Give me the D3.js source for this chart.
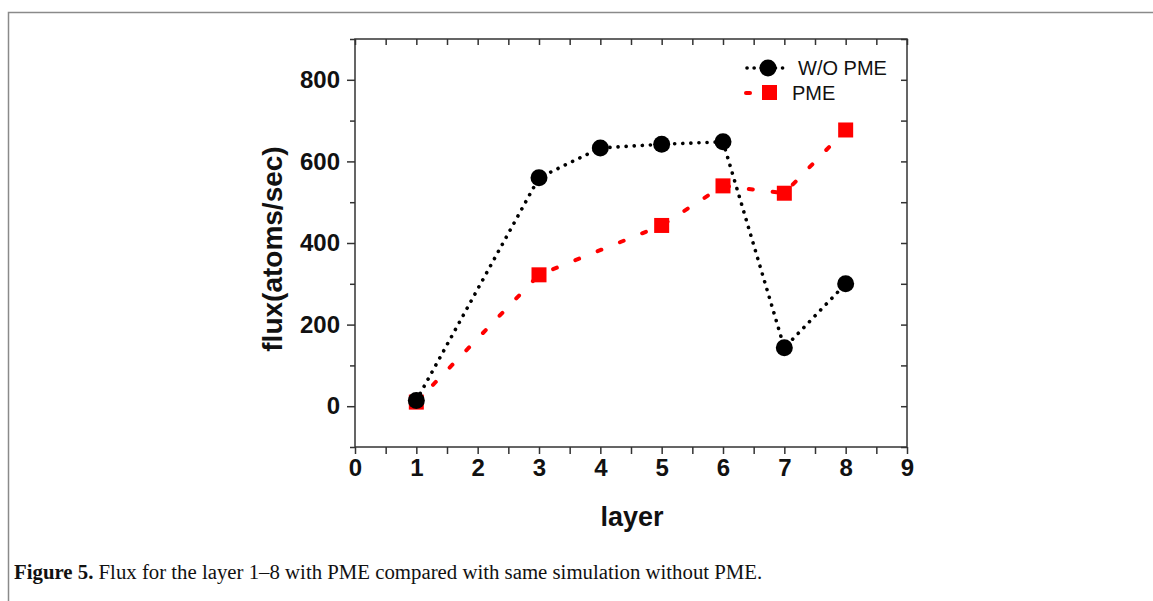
<!DOCTYPE html>
<html>
<head>
<meta charset="utf-8">
<script src="https://cdn.jsdelivr.net/npm/d3@7"></script>
<style>
  body { margin: 0; background: #fff; }
  svg { display: block; }
</style>
</head>
<body>
<svg id="chart" width="1153" height="601"></svg>
<script>
// data
let layers = [1, 3, 4, 5, 6, 7, 8];
let fluxNoPme = [14, 560, 633, 642, 648, 143, 300];
let pmeLayers = [1, 3, 5, 6, 7, 8];
let fluxPme = [10, 322, 443, 540, 522, 677];
let xTicks = [0, 1, 2, 3, 4, 5, 6, 7, 8, 9];
let yTicks = [0, 200, 400, 600, 800];

let svg = d3.select("#chart");

// outer frame
svg.append("rect")
  .attr("x", 8.5).attr("y", 12.5)
  .attr("width", 1160).attr("height", 600)
  .attr("fill", "none")
  .attr("stroke", "#8a8a8a")
  .attr("stroke-width", 1.5);

let margin = {left: 355, top: 39, right: 907, bottom: 447};

let x = d3.scaleLinear().domain([0, 9]).range([margin.left, margin.right]);
let y = d3.scaleLinear().domain([-100, 900]).range([margin.bottom, margin.top]);

let halfTicks = d3.range(0, 9.01, 0.5);
let hundredTicks = d3.range(-100, 901, 100);

// bottom axis
svg.append("g")
  .attr("transform", "translate(0," + margin.bottom + ")")
  .call(d3.axisBottom(x).tickValues(halfTicks).tickSize(7).tickFormat(""))
  .call(g => g.select(".domain").remove());
svg.append("g")
  .attr("class", "xlab")
  .attr("transform", "translate(0," + margin.bottom + ")")
  .call(d3.axisBottom(x).tickValues(xTicks).tickSize(0).tickPadding(12).tickFormat(d3.format("d")))
  .call(g => g.select(".domain").remove());

// top axis (inward)
svg.append("g")
  .attr("transform", "translate(0," + margin.top + ")")
  .call(d3.axisBottom(x).tickValues(halfTicks).tickSize(6).tickFormat(""))
  .call(g => g.select(".domain").remove());

// left axis
svg.append("g")
  .attr("transform", "translate(" + margin.left + ",0)")
  .call(d3.axisLeft(y).tickValues(hundredTicks.filter(d => d % 200 != 0)).tickSize(5).tickFormat(""))
  .call(g => g.select(".domain").remove());
svg.append("g")
  .attr("class", "ylab")
  .attr("transform", "translate(" + margin.left + ",0)")
  .call(d3.axisLeft(y).tickValues(yTicks).tickSize(8).tickPadding(7).tickFormat(d3.format("d")))
  .call(g => g.select(".domain").remove());

// right axis (inward)
svg.append("g")
  .attr("transform", "translate(" + margin.right + ",0)")
  .call(d3.axisLeft(y).tickValues(hundredTicks).tickSize(6).tickFormat(""))
  .call(g => g.select(".domain").remove());

svg.selectAll(".tick line").attr("stroke", "#333").attr("stroke-width", 1.5);
svg.selectAll(".xlab text, .ylab text")
  .attr("font-family", "Liberation Sans, Arial, sans-serif")
  .attr("font-weight", "bold")
  .attr("font-size", 24)
  .attr("fill", "#111");

// frame of plot
svg.append("rect")
  .attr("x", margin.left).attr("y", margin.top)
  .attr("width", margin.right - margin.left)
  .attr("height", margin.bottom - margin.top)
  .attr("fill", "none")
  .attr("stroke", "#333")
  .attr("stroke-width", 1.5);

// lines
let lineNo = d3.line().x((d, i) => x(layers[i])).y(d => y(d));
let linePme = d3.line().x((d, i) => x(pmeLayers[i])).y(d => y(d));

svg.append("path")
  .datum(fluxPme)
  .attr("d", linePme)
  .attr("fill", "none")
  .attr("stroke", "#ff0000")
  .attr("stroke-width", 4)
  .attr("stroke-linecap", "round")
  .attr("stroke-dasharray", "4 20");

svg.append("path")
  .datum(fluxNoPme)
  .attr("d", lineNo)
  .attr("fill", "none")
  .attr("stroke", "#000")
  .attr("stroke-width", 3.6)
  .attr("stroke-linecap", "round")
  .attr("stroke-dasharray", "0.1 8");

// markers
svg.selectAll(".sq")
  .data(fluxPme)
  .enter()
  .append("rect")
    .attr("x", (d, i) => x(pmeLayers[i]) - 7.5)
    .attr("y", d => y(d) - 7.5)
    .attr("width", 15)
    .attr("height", 15)
    .attr("fill", "#ff0000");

svg.selectAll(".dot")
  .data(fluxNoPme)
  .enter()
  .append("circle")
    .attr("cx", (d, i) => x(layers[i]))
    .attr("cy", d => y(d))
    .attr("r", 8.5)
    .attr("fill", "#000");

// legend
let leg = svg.append("g").attr("font-family", "Liberation Sans, Arial, sans-serif").attr("font-size", 20).attr("fill", "#111");
leg.append("line")
  .attr("x1", 747).attr("x2", 788).attr("y1", 68).attr("y2", 68)
  .attr("stroke", "#000").attr("stroke-width", 3.6)
  .attr("stroke-linecap", "round").attr("stroke-dasharray", "0.1 7");
leg.append("circle").attr("cx", 768).attr("cy", 68).attr("r", 8.5).attr("fill", "#000");
leg.append("text").attr("x", 798).attr("y", 75).text("W/O PME");
leg.append("line")
  .attr("x1", 746).attr("x2", 790).attr("y1", 93).attr("y2", 93)
  .attr("stroke", "#ff0000").attr("stroke-width", 4)
  .attr("stroke-linecap", "round").attr("stroke-dasharray", "4 40");
leg.append("rect").attr("x", 762).attr("y", 85).attr("width", 15).attr("height", 15).attr("fill", "#ff0000");
leg.append("text").attr("x", 792).attr("y", 100).text("PME");

// axis titles
svg.append("text")
  .attr("transform", "translate(282," + ((margin.top + margin.bottom) / 2 + 6) + ") rotate(-90)")
  .style("text-anchor", "middle")
  .attr("font-family", "Liberation Sans, Arial, sans-serif")
  .attr("font-weight", "bold")
  .attr("font-size", 28)
  .attr("fill", "#111")
  .text("flux(atoms/sec)");

svg.append("text")
  .attr("x", 632).attr("y", 526)
  .style("text-anchor", "middle")
  .attr("font-family", "Liberation Sans, Arial, sans-serif")
  .attr("font-weight", "bold")
  .attr("font-size", 27)
  .attr("fill", "#111")
  .text("layer");

// caption
let cap = svg.append("text")
  .attr("x", 14).attr("y", 579)
  .attr("font-family", "Liberation Serif, serif")
  .attr("font-size", 20.8)
  .attr("fill", "#111");
cap.append("tspan").attr("font-weight", "bold").text("Figure 5.");
cap.append("tspan").text(" Flux for the layer 1\u20138 with PME compared with same simulation without PME.");
</script>
</body>
</html>
